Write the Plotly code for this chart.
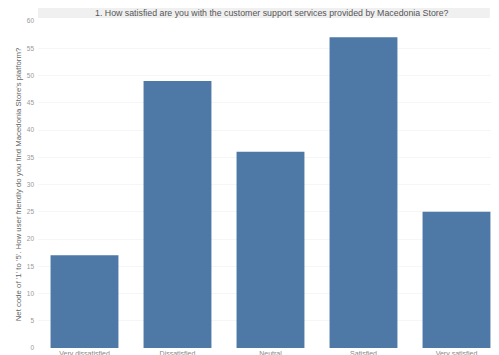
import plotly.graph_objects as go

categories = ["Very dissatisfied", "Dissatisfied", "Neutral", "Satisfied", "Very satisfied"]
counts = [17, 49, 36, 57, 25]
y_ticks = [0, 5, 10, 15, 20, 25, 30, 35, 40, 45, 50, 55, 60]

title_text = "1. How satisfied are you with the customer support services provided by Macedonia Store?"
y_title = "Net code of '1' to '5'. How user friendly do you find Macedonia Store's platform?"

fig = go.Figure(go.Bar(
    x=categories, y=counts,
    marker=dict(color="#4e79a7", line=dict(width=0)),
))

# page body adds an 8px offset, so the figure is sized to fill the rest of the window
fig.update_layout(
    width=491, height=347,
    margin=dict(l=30, r=0, t=13, b=7),
    paper_bgcolor="white", plot_bgcolor="white",
    bargap=0.27,
    showlegend=False,
    font=dict(family="Liberation Sans, Arial, sans-serif", size=7, color="#888"),
    shapes=[dict(type="rect", xref="paper", yref="paper", x0=0.0, x1=0.98, y0=1.009, y1=1.04,
                 fillcolor="#f0f0f0", line=dict(width=0), layer="below")],
    annotations=[dict(text=title_text, xref="paper", yref="paper", x=0.508, y=1.0245,
                      showarrow=False, xanchor="center", yanchor="middle",
                      font=dict(size=8.8, color="#555"))],
)
fig.update_xaxes(
    type="category", range=[-0.5, 4.457], automargin=False,
    showgrid=False, showline=False, ticks="", ticklen=0,
    tickfont=dict(size=7, color="#888"),
)
fig.update_yaxes(
    range=[0, 60], tickvals=y_ticks, automargin=False,
    showgrid=True, gridcolor="#f6f6f6", zeroline=False, showline=False,
    tickfont=dict(size=6.5, color="#999"), ticks="", ticklabelstandoff=3,
    title=dict(text=y_title, font=dict(size=7.8, color="#666"), standoff=4),
)
fig.write_html("out.html")
